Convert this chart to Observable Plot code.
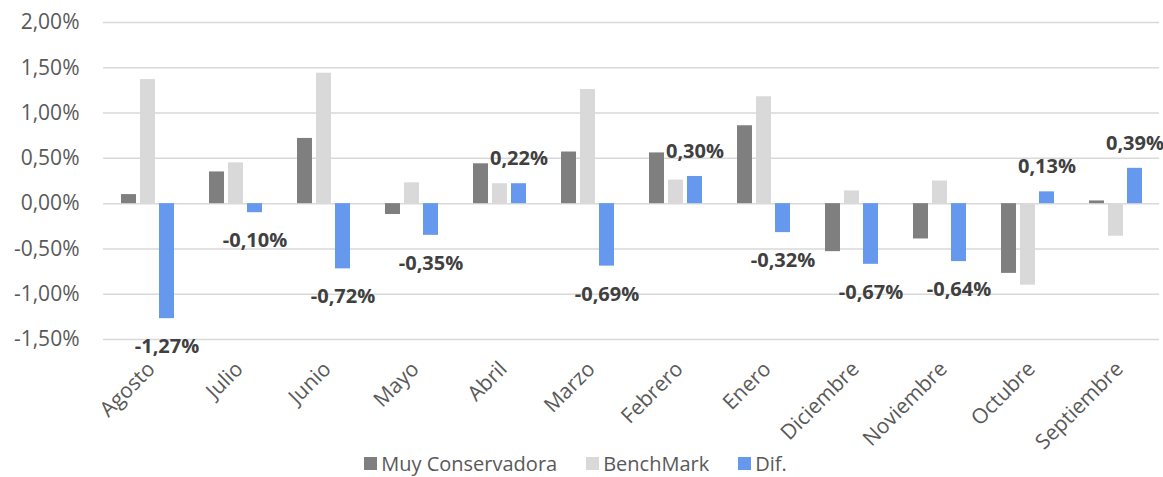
<!DOCTYPE html>
<html><head><meta charset="utf-8">
<script src="https://cdn.jsdelivr.net/npm/d3@7"></script>
<script src="https://cdn.jsdelivr.net/npm/@observablehq/plot@0.6"></script>
<style>
body{margin:0;background:#fff;font-family:"Open Sans",sans-serif;overflow:hidden}
#chart svg{display:block}
#legend{position:absolute;top:450px;left:0;width:1151px;display:flex;justify-content:center;gap:29px;font-size:20px;color:#595959;line-height:normal;align-items:center}
.item{display:flex;align-items:center;gap:4px}
.sw{width:13px;height:13px;display:inline-block}
</style></head><body><div id="chart"></div><div id="legend"></div>
<script>
const months = ["Agosto","Julio","Junio","Mayo","Abril","Marzo","Febrero","Enero","Diciembre","Noviembre","Octubre","Septiembre"];
const muyConservadora = [0.10, 0.35, 0.72, -0.12, 0.44, 0.57, 0.56, 0.86, -0.53, -0.39, -0.77, 0.03];
const benchMark = [1.37, 0.45, 1.44, 0.23, 0.22, 1.26, 0.26, 1.18, 0.14, 0.25, -0.90, -0.36];
const dif = [-1.27, -0.10, -0.72, -0.35, 0.22, -0.69, 0.30, -0.32, -0.67, -0.64, 0.13, 0.39];
const seriesNames = ["Muy Conservadora", "BenchMark", "Dif."];
const seriesColors = ["#7f7f7f", "#d9d9d9", "#6699ee"];
const yTicks = [-1.5, -1, -0.5, 0, 0.5, 1, 1.5, 2];

const seriesValues = [muyConservadora, benchMark, dif];
const rows = months.flatMap((m, i) => seriesNames.map((s, j) => ({month: m, series: s, value: seriesValues[j][i]})));
const difRows = rows.filter(d => d.series === "Dif.");
const fmt = v => d3.format(".2f")(v).replace(".", ",").replace("\u2212", "-") + "%";

const chart = Plot.plot({
  width: 1163, height: 477,
  marginTop: 22, marginBottom: 138, marginLeft: 102, marginRight: 4,
  fx: {domain: months, padding: 0, label: null},
  x: {domain: seriesNames, paddingInner: 0.23, paddingOuter: 0.874, axis: null},
  y: {domain: [-1.5, 2], label: null},
  color: {domain: seriesNames, range: seriesColors},
  style: {fontFamily: "Open Sans", fontSize: "21px", color: "#595959", background: "#fff"},
  marks: [
    Plot.ruleY(yTicks, {stroke: "#d9d9d9", strokeWidth: 1.5}),
    Plot.barY(rows, {fx: "month", x: "series", y: "value", fill: "series"}),
    Plot.text(difRows.filter(d => d.value >= 0), {fx: "month", x: "series", y: "value", text: d => fmt(d.value), dy: -25, fontWeight: "bold", fontSize: 20, fill: "#404040"}),
    Plot.text(difRows.filter(d => d.value < 0), {fx: "month", x: "series", y: "value", text: d => fmt(d.value), dy: 28, fontWeight: "bold", fontSize: 20, fill: "#404040"}),
    Plot.axisY({ticks: yTicks, tickFormat: fmt, tickSize: 0, tickPadding: 24, label: null}),
    Plot.axisFx({anchor: "bottom", tickRotate: -45, tickSize: 0, tickPadding: 26, dx: 4, label: null})
  ]
});
document.getElementById("chart").appendChild(chart);

const legend = document.getElementById("legend");
seriesNames.forEach((s, i) => {
  const it = document.createElement("div");
  it.className = "item";
  it.innerHTML = `<span class="sw" style="background:${seriesColors[i]}"></span><span>${s}</span>`;
  legend.appendChild(it);
});
</script></body></html>
